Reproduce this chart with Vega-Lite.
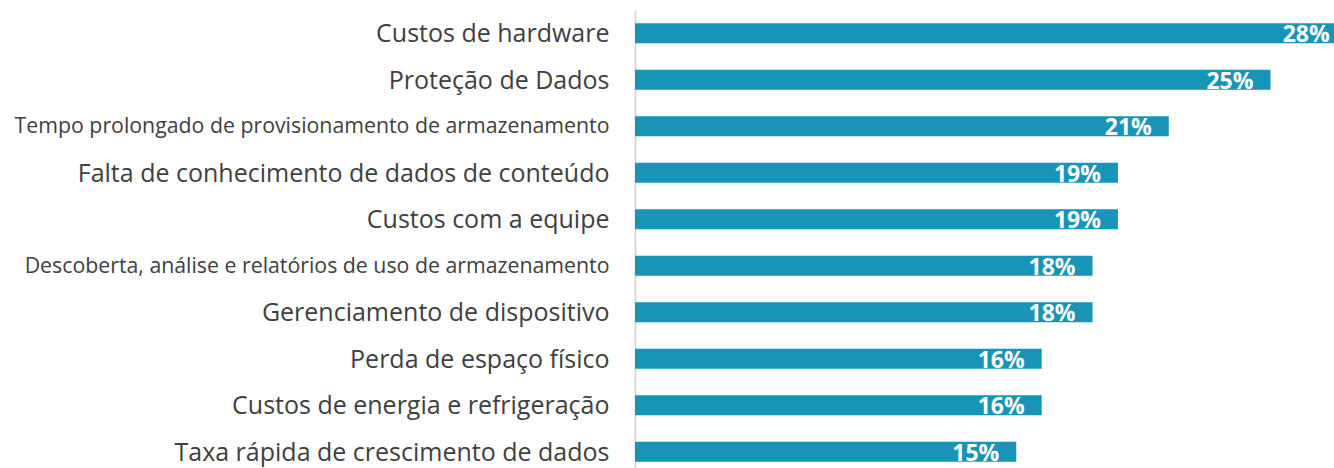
{
  "$schema": "https://vega.github.io/schema/vega-lite/v6.json",
  "autosize": {"type": "none"},
  "padding": {"left": 635, "top": 10, "right": 0, "bottom": 0},
  "width": 699,
  "height": 465,
  "background": "white",
  "config": {"view": {"stroke": null}, "font": "Open Sans"},
  "data": {
    "values": [
      {"item": "Custos de hardware", "value": 28, "label": "28%"},
      {"item": "Proteção de Dados", "value": 25, "label": "25%"},
      {"item": "Tempo prolongado de provisionamento de armazenamento", "value": 21, "label": "21%"},
      {"item": "Falta de conhecimento de dados de conteúdo", "value": 19, "label": "19%"},
      {"item": "Custos com a equipe", "value": 19, "label": "19%"},
      {"item": "Descoberta, análise e relatórios de uso de armazenamento", "value": 18, "label": "18%"},
      {"item": "Gerenciamento de dispositivo", "value": 18, "label": "18%"},
      {"item": "Perda de espaço físico", "value": 16, "label": "16%"},
      {"item": "Custos de energia e refrigeração", "value": 16, "label": "16%"},
      {"item": "Taxa rápida de crescimento de dados", "value": 15, "label": "15%"}
    ]
  },
  "encoding": {
    "y": {
      "field": "item", "type": "nominal", "sort": null,
      "scale": {"paddingInner": 0, "paddingOuter": 0},
      "axis": {
        "title": null, "ticks": false, "domainColor": "#d9d9d9", "domainWidth": 2,
        "labelPadding": 26, "labelColor": "#404040", "labelLimit": 700,
        "labelFont": "Open Sans", "labelOffset": 1,
        "labelFontSize": {"condition": {"test": "length(datum.label) > 45", "value": 21.3}, "value": 25}
      }
    },
    "x": {
      "field": "value", "type": "quantitative",
      "scale": {"domain": [0, 27.5], "nice": false, "zero": true},
      "axis": null
    }
  },
  "layer": [
    {"mark": {"type": "bar", "size": 20, "color": "#1794b8", "clip": true}},
    {"mark": {"type": "text", "align": "right", "baseline": "middle", "dx": -17, "dy": 2, "color": "white", "fontWeight": "bold", "fontSize": 23, "font": "Open Sans"},
     "encoding": {"text": {"field": "label"}}}
  ]
}
